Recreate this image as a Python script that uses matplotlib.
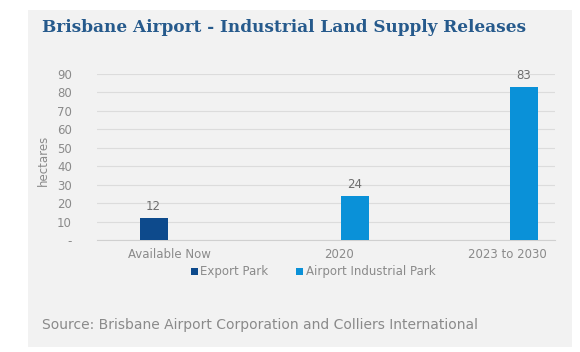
import matplotlib

matplotlib.use("Agg")
import matplotlib.pyplot as plt
import numpy as np
from matplotlib.patches import Rectangle

categories = ["Available Now", "2020", "2023 to 2030"]
export_park = [12, np.nan, np.nan]
airport_park = [np.nan, 24, 83]
yticks = [0, 10, 20, 30, 40, 50, 60, 70, 80, 90]
ytick_labels = ["-", "10", "20", "30", "40", "50", "60", "70", "80", "90"]

DARK, LIGHT = "#0d4a8c", "#0a91d8"
PANEL, TXT = "#f2f2f2", "#8a8a8a"

fig = plt.figure(figsize=(5.8, 3.52), dpi=100)
fig.patch.set_facecolor("white")
fig.add_artist(Rectangle((28 / 580, 1 - 347 / 352), (572 - 28) / 580, (347 - 10) / 352,
                         transform=fig.transFigure, facecolor=PANEL, edgecolor="none",
                         zorder=0))

ax = fig.add_axes([97 / 580, 1 - 240 / 352, (555 - 97) / 580, (240 - 74) / 352])
ax.set_facecolor(PANEL)

x = np.arange(len(categories))
w, off = 0.165, 0.095
b1 = ax.bar(x - off, export_park, w, color=DARK, label="Export Park", zorder=3)
b2 = ax.bar(x + off, airport_park, w, color=LIGHT, label="Airport Industrial Park", zorder=3)
for bars, vals in ((b1, export_park), (b2, airport_park)):
    for rect, v in zip(bars, vals):
        if np.isfinite(v):
            ax.text(rect.get_x() + rect.get_width() / 2, v + 2.5, f"{v:g}",
                    ha="center", va="bottom", fontsize=8.5, color="#6e6e6e")

ax.set_xlim(-0.43, 2.28)
ax.set_ylim(0, 90)
ax.set_yticks(yticks)
ax.set_yticklabels(ytick_labels)
ax.set_xticks(x)
ax.set_xticklabels(categories)
ax.tick_params(axis="both", length=0, labelsize=8.5, colors=TXT)
ax.tick_params(axis="y", pad=18)
ax.tick_params(axis="x", pad=6)
ax.grid(axis="y", color="#dcdcdc", linewidth=0.8, zorder=0)
for s in ("top", "right", "left"):
    ax.spines[s].set_visible(False)
ax.spines["bottom"].set_color("#d0d0d0")
ax.set_ylabel("hectares", fontsize=8.5, color=TXT)
ax.yaxis.set_label_coords(-0.103, 0.48)

fig.legend(handles=[b1, b2], loc="center", bbox_to_anchor=(313 / 580, 1 - 272 / 352),
           ncol=2, frameon=False, fontsize=8.5, handlelength=0.6, handleheight=0.6,
           handletextpad=0.2, columnspacing=2.4, labelcolor=TXT)

fig.text(42 / 580, 1 - 28 / 352, "Brisbane Airport - Industrial Land Supply Releases",
         family="DejaVu Serif", weight="bold", fontsize=12.15, color="#265a8c",
         va="center", ha="left")
fig.text(42 / 580, 1 - 325 / 352,
         "Source: Brisbane Airport Corporation and Colliers International",
         fontsize=10, color=TXT, va="center", ha="left")

fig.savefig("out.png", dpi=100, facecolor="white")
